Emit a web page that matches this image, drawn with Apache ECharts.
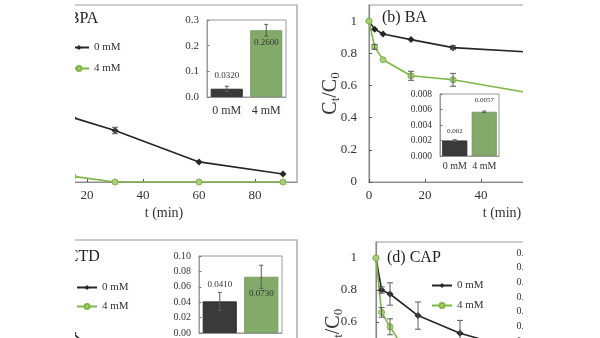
<!DOCTYPE html>
<html>
<head>
<meta charset="utf-8">
<script src="https://cdn.jsdelivr.net/npm/echarts@6/dist/echarts.min.js"></script>
<style>
  html, body { margin: 0; background: #fff; }
  /* the figure is shown through a window that trims its outer margins */
  #fig { width: 600px; height: 338px; clip-path: inset(0 77px 0 75px); }
</style>
</head>
<body>
<div id="fig"></div>
<script>
// sampling times (min)
const tMin = [0, 2, 5, 15, 30, 60, 90];
const tTicks = [0, 20, 40, 60, 80];
const yTicks = [0, 0.2, 0.4, 0.6, 0.8, 1];
const doses = ['0 mM', '4 mM'];

// Ct/C0 for each compound, without (0 mM) and with (4 mM) the additive
const bpa0 = [1, 0.8, 0.65, 0.40, 0.32, 0.125, 0.05];
const bpa4 = [1, 0.5, 0.2, 0.035, 0, 0, 0];
const ba0  = [1, 0.95, 0.92, 0.885, 0.835, 0.805, 0.78];
const ba4  = [1, 0.84, 0.76, 0.66, 0.635, 0.545, 0.48];
const ctd0 = [1, 0.9, 0.8, 0.52, 0.3, 0.1, 0.05];
const ctd4 = [1, 0.7, 0.5, 0.25, 0.1, 0.02, 0];
const cap0 = [1, 0.8, 0.775, 0.64, 0.53, 0.38, 0.28];
const cap4 = [1, 0.66, 0.57, 0.3, 0.12, 0.03, 0.01];

// standard deviations: [t, mean, sd]
const bpa0Err = [[30, 0.32, 0.02]];
const ba0Err  = [[30, 0.835, 0.012]];
const ba4Err  = [[2, 0.84, 0.015], [15, 0.66, 0.028], [30, 0.635, 0.04]];
const cap0Err = [[2, 0.8, 0.02], [5, 0.775, 0.07], [15, 0.64, 0.085], [30, 0.53, 0.08]];
const cap4Err = [[2, 0.66, 0.03], [5, 0.57, 0.05]];

// rate constants k (inset bars) and their deviations
const bpaK = [0.032, 0.26];
const bpaKErr = [0.01, 0.023];
const baK = [0.002, 0.0057];
const baKErr = [0.0001, 0.0001];
const ctdK = [0.041, 0.073];
const ctdKErr = [0.0117, 0.015];

const SERIF = 'Liberation Serif';
const TXT = '#333';
const BLACK = '#262626';
const GREEN = '#7db641';
const BAR_BLACK = '#3a3a3a';
const BAR_GREEN = '#83aa69';
const FRAME = '#9a9a9a';

const pairs = vals => tMin.map((t, i) => [t, vals[i]]);

function errRender(cap, color) {
  return function (params, api) {
    const x = api.value(0), m = api.value(1), sd = api.value(2);
    const hi = api.coord([x, m + sd]);
    const lo = api.coord([x, m - sd]);
    const st = { stroke: color, lineWidth: 1 };
    return {
      type: 'group',
      children: [
        { type: 'line', shape: { x1: hi[0], y1: hi[1], x2: lo[0], y2: lo[1] }, style: st },
        { type: 'line', shape: { x1: hi[0] - cap, y1: hi[1], x2: hi[0] + cap, y2: hi[1] }, style: st },
        { type: 'line', shape: { x1: lo[0] - cap, y1: lo[1], x2: lo[0] + cap, y2: lo[1] }, style: st }
      ]
    };
  };
}

function errSeries(idx, data, cap) {
  return {
    type: 'custom', xAxisIndex: idx, yAxisIndex: idx, z: 5,
    renderItem: errRender(cap, '#5a5a5a'),
    encode: { x: 0, y: 1 }, data: data, silent: true, clip: true
  };
}

function mainGrid(left, top, height) {
  return { left: left, top: top, width: 266, height: height, show: true,
           containLabel: false, outerBoundsMode: 'none',
           borderColor: FRAME, borderWidth: 1.2, backgroundColor: '#fff' };
}
function insetGrid(left, top, width, height) {
  return { left: left, top: top, width: width, height: height, show: true,
           containLabel: false, outerBoundsMode: 'none',
           borderColor: FRAME, borderWidth: 1, backgroundColor: '#fff' };
}

function mainX(idx) {
  return {
    type: 'value', gridIndex: idx, min: 0, max: 95,
    axisLine: { show: true, lineStyle: { color: '#8a8a8a', width: 1.2 } },
    axisTick: { show: true, inside: true, length: 3, customValues: tTicks, lineStyle: { color: '#555' } },
    axisLabel: { customValues: tTicks, margin: 7, fontFamily: SERIF, fontSize: 13, color: TXT },
    splitLine: { show: false },
    name: 't (min)', nameLocation: 'middle', nameGap: 24, nameMoveOverlap: false,
    nameTextStyle: { fontFamily: SERIF, fontSize: 14, color: TXT }
  };
}
function mainY(idx, margin, gap) {
  return {
    type: 'value', gridIndex: idx, min: 0, max: 1.1,
    axisLine: { show: true, lineStyle: { color: '#8a8a8a', width: 1.2 } },
    axisTick: { show: true, inside: true, length: 3, customValues: yTicks, lineStyle: { color: '#555' } },
    axisLabel: { customValues: yTicks, margin: margin, fontFamily: SERIF, fontSize: 13, color: TXT,
                 formatter: v => String(Math.round(v * 10) / 10) },
    splitLine: { show: false },
    name: '{c|C}{s|t}{c|/C}{s|0}', nameLocation: 'middle', nameGap: gap, nameMoveOverlap: false,
    nameTextStyle: { rich: {
      c: { fontFamily: SERIF, fontSize: 20, color: TXT },
      s: { fontFamily: SERIF, fontSize: 13, color: TXT, padding: [9, 0, 0, 0] }
    } }
  };
}
function insetX(idx, fs, margin) {
  return {
    type: 'category', gridIndex: idx, data: doses,
    axisLine: { show: true, lineStyle: { color: FRAME } },
    axisTick: { show: false },
    axisLabel: { interval: 0, margin: margin, fontFamily: SERIF, fontSize: fs, color: TXT }
  };
}
function insetY(idx, max, step, digits, fs) {
  return {
    type: 'value', gridIndex: idx, min: 0, max: max, interval: step,
    axisLine: { show: true, lineStyle: { color: FRAME } },
    axisTick: { show: true, inside: true, length: 2.5, lineStyle: { color: '#777' } },
    axisLabel: { margin: 8, fontFamily: SERIF, fontSize: fs, color: TXT,
                 formatter: v => v.toFixed(digits) },
    splitLine: { show: false }
  };
}

function lineSeries(idx, name, vals) {
  const isCtrl = name === doses[0];
  return {
    type: 'line', name: name, xAxisIndex: idx, yAxisIndex: idx, data: pairs(vals),
    symbol: isCtrl ? 'diamond' : 'circle', symbolSize: isCtrl ? 7 : 6,
    lineStyle: { color: isCtrl ? BLACK : GREEN, width: 1.6 },
    itemStyle: isCtrl ? { color: BLACK } : { color: '#a8d07c', borderColor: GREEN, borderWidth: 1 },
    clip: true, z: 3
  };
}

function barSeries(idx, vals, width, fs, fmt, lab) {
  return {
    type: 'bar', xAxisIndex: idx, yAxisIndex: idx, barWidth: width, z: 3,
    data: vals.map((v, i) => ({
      value: v,
      itemStyle: { color: i === 0 ? BAR_BLACK : BAR_GREEN,
                   borderColor: i === 0 ? '#222' : '#6f9357', borderWidth: 0.8 },
      label: { show: true, position: lab[i][0], distance: lab[i][1] }
    })),
    label: { formatter: p => fmt(p.value), fontFamily: SERIF, fontSize: fs, color: TXT }
  };
}
function barErr(idx, vals, sds) {
  return errSeries(idx, vals.map((v, i) => [i, v, sds[i]]), 2);
}

function legendItem(left, top, name, w) {
  return {
    left: left, top: top, padding: 0, orient: 'vertical', data: [name],
    itemWidth: w, itemHeight: 6, selectedMode: false,
    textStyle: { fontFamily: SERIF, fontSize: 11, color: TXT }
  };
}

function title(x, y, text) {
  return { type: 'text', z: 10, style: { x: x, y: y, text: text, fontFamily: SERIF, fontSize: 16,
           fill: '#222', verticalAlign: 'middle' } };
}

const chart = echarts.init(document.getElementById('fig'), null, { renderer: 'canvas' });
chart.setOption({
  animation: false,
  backgroundColor: '#fff',
  grid: [
    mainGrid(31, 5, 177),      // (a) BPA
    insetGrid(207, 20, 79, 77),
    mainGrid(369, 5, 177),     // (b) BA
    insetGrid(440, 94, 59, 62),
    mainGrid(31, 240, 177),    // (c) CTD
    insetGrid(199, 256, 83, 77),
    mainGrid(376, 242, 176),   // (d) CAP
    insetGrid(542, 253, 60, 88)
  ],
  xAxis: [
    mainX(0), insetX(1, 12, 8),
    mainX(2), insetX(3, 10, 5),
    mainX(4), insetX(5, 11, 8),
    mainX(6), insetX(7, 11, 8)
  ],
  yAxis: [
    mainY(0, 12, 27), insetY(1, 0.3, 0.1, 1, 11),
    mainY(2, 12, 27), insetY(3, 0.008, 0.002, 3, 9.5),
    mainY(4, 12, 27), insetY(5, 0.1, 0.02, 2, 10),
    mainY(6, 19, 31), insetY(7, 0.12, 0.02, 2, 10)
  ],
  legend: [
    legendItem(68, 42, doses[0], 20), legendItem(68, 63, doses[1], 20),
    legendItem(76, 282, doses[0], 20), legendItem(76, 301, doses[1], 20),
    legendItem(431, 280, doses[0], 20), legendItem(431, 300, doses[1], 20)
  ],
  graphic: [
    title(47, 19, '(a) BPA'),
    title(382, 18, '(b) BA'),
    title(46, 257, '(c) CTD'),
    title(387, 258, '(d) CAP')
  ],
  series: [
    lineSeries(0, doses[0], bpa0), lineSeries(0, doses[1], bpa4), errSeries(0, bpa0Err, 3),
    barSeries(1, bpaK, '81%', 9, v => v.toFixed(4), [['top', 9], ['insideTop', 8]]),
    barErr(1, bpaK, bpaKErr),

    lineSeries(2, doses[0], ba0), lineSeries(2, doses[1], ba4),
    errSeries(2, ba0Err, 3), errSeries(2, ba4Err, 3),
    barSeries(3, baK, '85%', 7, v => String(v), [['top', 6], ['top', 8]]),
    barErr(3, baK, baKErr),

    lineSeries(4, doses[0], ctd0), lineSeries(4, doses[1], ctd4),
    barSeries(5, ctdK, '82%', 9, v => v.toFixed(4), [['top', 12], ['insideTop', 12]]),
    barErr(5, ctdK, ctdKErr),

    lineSeries(6, doses[0], cap0), lineSeries(6, doses[1], cap4),
    errSeries(6, cap0Err, 3), errSeries(6, cap4Err, 3)
  ]
});
</script>
</body>
</html>
